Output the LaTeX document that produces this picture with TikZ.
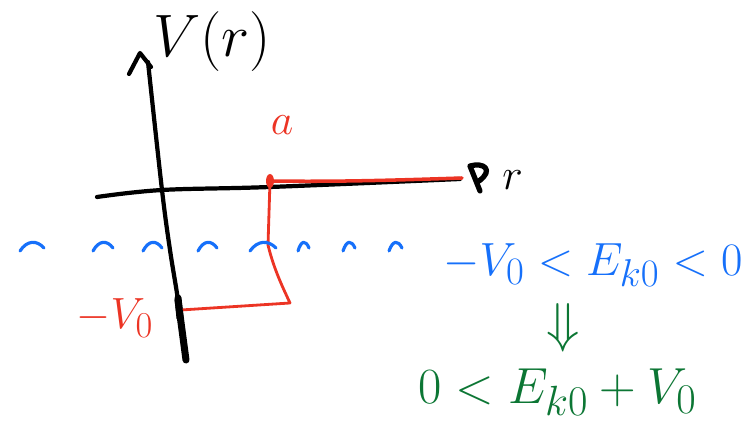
\documentclass[tikz,border=0pt]{standalone}
\usetikzlibrary{arrows.meta}
\definecolor{penred}{RGB}{236,52,36}
\definecolor{penblue}{RGB}{22,112,250}
\definecolor{pengreen}{RGB}{12,118,52}
\begin{document}
\begin{tikzpicture}[x=0.02cm,y=-0.02cm,line cap=round,line join=round,
  axisline/.style={draw=black,line width=2.4pt},
  redline/.style={draw=penred,line width=2pt},
  bluearc/.style={draw=penblue,line width=1.8pt},
  lbl/.style={inner sep=0pt,font=\fontsize{24.88}{27}\selectfont},
  bluelbl/.style={lbl,text=penblue},
  greenlbl/.style={lbl,text=pengreen},
  redlbl/.style={lbl,text=penred}]
\useasboundingbox (0,0) rectangle (744,421);
% axes
\coordinate (ytop) at (148,62);
\coordinate (ybot) at (186,360);
\coordinate (xleft) at (97,197);
\coordinate (xright) at (460,179);
\draw[axisline] plot[smooth,tension=0.6] coordinates {(ybot) (178,300) (170,250) (162,190) (ytop)};
\draw[draw=black,line width=4pt] (178,300) -- (ybot);
\draw[axisline] (129,74) -- (140,53) -- (151,67);
\draw[axisline] plot[smooth,tension=0.6] coordinates {(xleft) (162,190) (270,187) (xright)};
\draw[draw=black,line width=3pt] (470,166) -- (480,191)
  (470,166) .. controls (484,162) and (494,170) .. (479,181);
\node[lbl,anchor=west] (vlab) at (153,42) {\scalebox{1.37}{$V(r)$}};
\node[lbl,anchor=west] (rlab) at (502,180) {$r$};
% red well
\coordinate (wa) at (270,181);
\coordinate (wb) at (290,303);
\coordinate (wc) at (181,310);
\coordinate (wd) at (462,178);
\fill[penred] (wa) ellipse (4 and 7);
\draw[redline] (wa) .. controls (340,182) and (400,180) .. (wd);
\draw[draw=penred,line width=1.6pt] (wa) -- (268,245) .. controls (274,270) and (284,290) .. (wb) -- (wc);
\draw[draw=black,line width=4pt] (178,298) -- (180,318);
\node[redlbl] (alab) at (282,125) {$a$};
\node[redlbl] (v0lab) at (115,318) {$-V_0$};
% blue wavy dashed level
\foreach \xa/\xb in {20/44,93/113,143/162,198/217,250/276,298/309,343/355,389/402}{
  \draw[bluearc] (\xa,251) .. controls ({\xa+(\xb-\xa)*0.3},240) and ({\xa+(\xb-\xa)*0.7},240) .. (\xb,248);
}
\node[bluelbl,anchor=west] (ineq1) at (443,265) {\scalebox{1.065}{$-V_0<E_{k0}<0$}};
\node[greenlbl] (impl) at (563,328) {\scalebox{1.25}{$\Downarrow$}};
\node[greenlbl,anchor=west] (ineq2) at (418,392) {\scalebox{1.16}{$0<E_{k0}+V_0$}};
\end{tikzpicture}
\end{document}
